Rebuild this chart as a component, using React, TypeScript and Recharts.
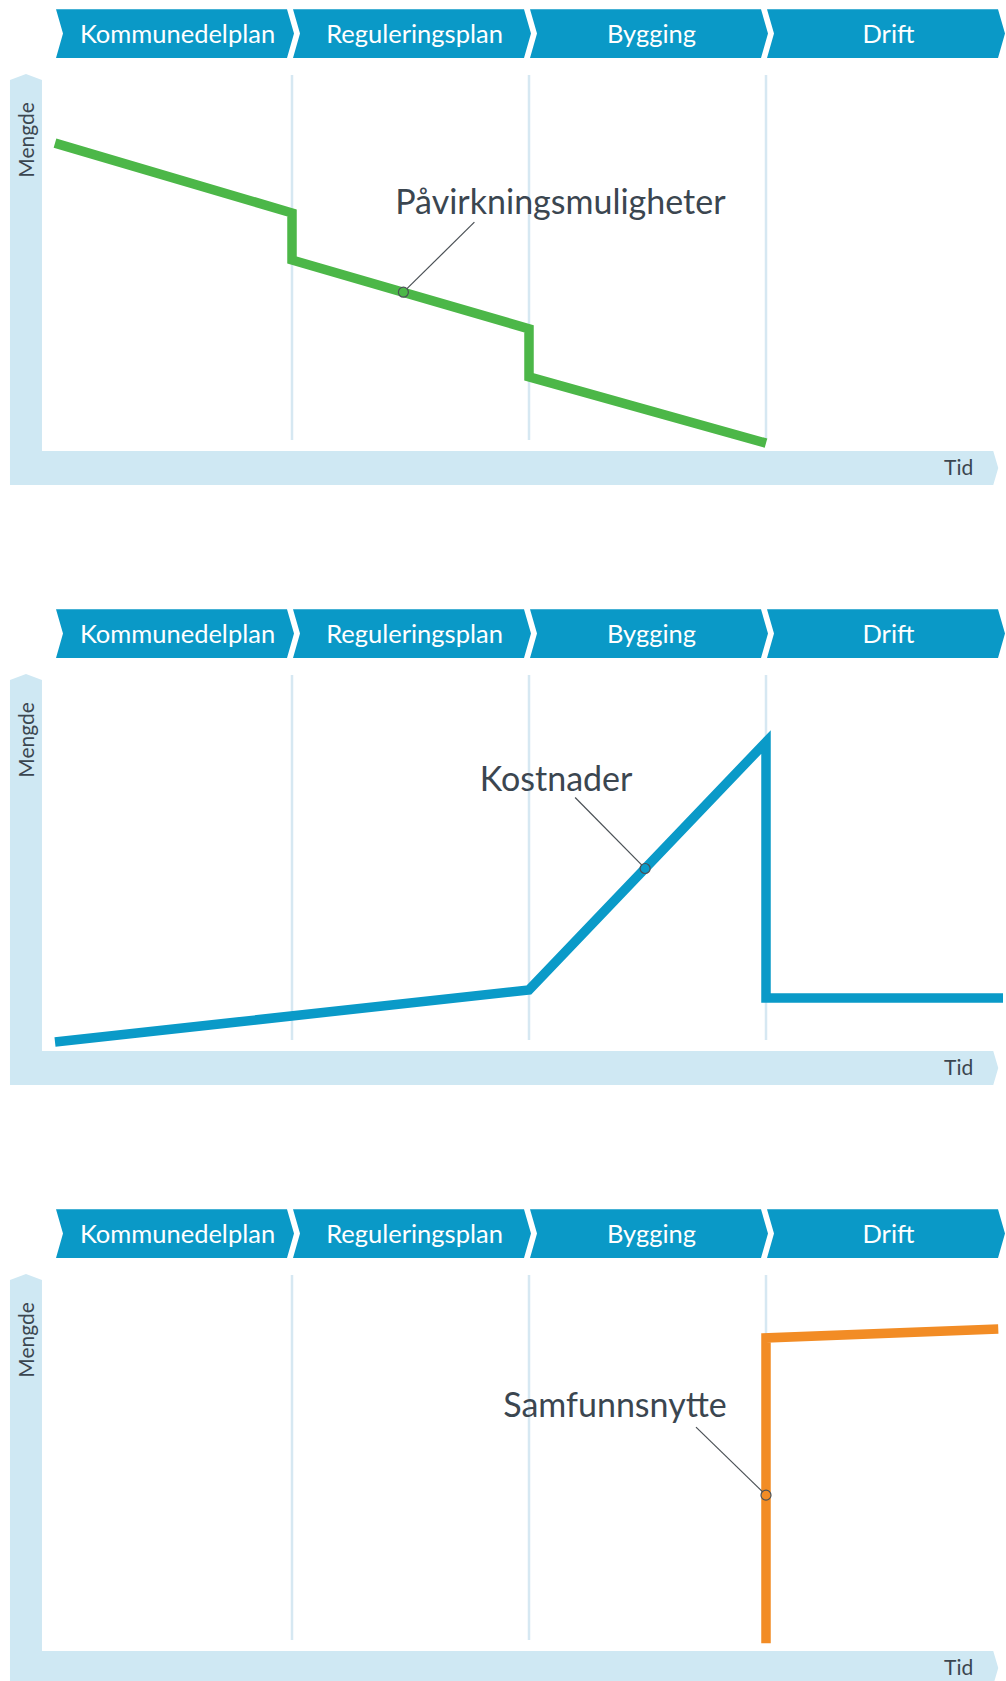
import React from "react";
import {
  LineChart,
  Line,
  XAxis,
  YAxis,
  ReferenceArea,
  ReferenceLine,
  ReferenceDot,
} from "recharts";

// ---- data ----
const PHASES = ["Kommunedelplan", "Reguleringsplan", "Bygging", "Drift"];
const PHASE_STARTS = [0, 1, 2, 3];
const PHASE_ENDS = [1, 2, 3, 4];
const PHASE_BOUNDARIES = [1, 2, 3];

const Y_LABEL = "Mengde";
const X_LABEL = "Tid";

const PAVIRKNING_T = [0, 1, 1, 2, 2, 3];
const PAVIRKNING_V = [81.6, 62.7, 50, 31.4, 18.4, 0.5];

const KOSTNADER_T = [0, 2, 3, 3, 4];
const KOSTNADER_V = [0.8, 14.9, 81.9, 12.7, 12.7];

const SAMFUNN_T = [3, 3, 3.98];
const SAMFUNN_V = [0.5, 83, 85.4];

const SERIES_NAMES = ["Påvirkningsmuligheter", "Kostnader", "Samfunnsnytte"];
const MARKER_T = [1.47, 2.49, 3];
const MARKER_V = [41.3, 47.7, 40.5];

// ---- styles ----
const FONT = "Lato, 'Open Sans', sans-serif";
const HEADER_COLOR = "#0a99c7";
const BAND_COLOR = "#cfe8f3";
const GRID_COLOR = "#d6e8f2";
const TEXT_COLOR = "#3b4650";
const SERIES_COLORS = ["#4cb748", "#0a9ac8", "#f28c25"];

// label placement (pixel offsets from marker)
const LEADER = [
  { dx: 71, dy: -70, tdx: 157 },
  { dx: -70, dy: -71, tdx: -89 },
  { dx: -70, dy: -68, tdx: -151 },
];

const toRows = (ts: number[], vs: number[]) => ts.map((t, i) => ({ t, v: vs[i] }));

const SERIES_DATA = [
  toRows(PAVIRKNING_T, PAVIRKNING_V),
  toRows(KOSTNADER_T, KOSTNADER_V),
  toRows(SAMFUNN_T, SAMFUNN_V),
];

const AxisFrame = (props: any) => {
  const { x, y, width: w, height: h } = props;
  const bw = 32;
  const bh = 34;
  const pts = [
    [x, y + 6],
    [x + bw / 2, y],
    [x + bw, y + 6],
    [x + bw, y + h - bh],
    [x + w - 5, y + h - bh],
    [x + w, y + h - bh / 2],
    [x + w - 5, y + h],
    [x, y + h],
  ]
    .map((p) => p.join(","))
    .join(" ");
  const my = y + 66;
  return (
    <g>
      <polygon points={pts} fill={BAND_COLOR} />
      <text
        x={x + bw / 2}
        y={my}
        transform={`rotate(-90 ${x + bw / 2} ${my})`}
        textAnchor="middle"
        dominantBaseline="central"
        fontSize={21}
        fontFamily={FONT}
        fill={TEXT_COLOR}
      >
        {Y_LABEL}
      </text>
      <text
        x={x + w - 25}
        y={y + h - 10}
        textAnchor="end"
        fontSize={21}
        fontFamily={FONT}
        fill={TEXT_COLOR}
      >
        {X_LABEL}
      </text>
    </g>
  );
};

const makeChevron = (label: string) => (props: any) => {
  const { x, y, width: w, height: h } = props;
  const pts = [
    [x + 1, y],
    [x + w - 5, y],
    [x + w + 2, y + h / 2],
    [x + w - 5, y + h],
    [x + 1, y + h],
    [x + 8, y + h / 2],
  ]
    .map((p) => p.join(","))
    .join(" ");
  return (
    <g>
      <polygon points={pts} fill={HEADER_COLOR} />
      <text
        x={x + w / 2 + 4}
        y={y + h / 2 + 9}
        textAnchor="middle"
        fontSize={25.5}
        fontFamily={FONT}
        fill="#ffffff"
      >
        {label}
      </text>
    </g>
  );
};

const makeMarker = (name: string, idx: number) => (props: any) => {
  const { cx, cy } = props;
  const r = 5;
  const L = LEADER[idx];
  const len = Math.hypot(L.dx, L.dy);
  const sx = cx + (L.dx / len) * r;
  const sy = cy + (L.dy / len) * r;
  return (
    <g>
      <line x1={sx} y1={sy} x2={cx + L.dx} y2={cy + L.dy} stroke="#4a5055" strokeWidth={1.2} />
      <circle cx={cx} cy={cy} r={r} fill="none" stroke="#4a5055" strokeWidth={1.2} />
      <text
        x={cx + L.tdx}
        y={cy - 78}
        textAnchor="middle"
        fontSize={34}
        fontFamily={FONT}
        fill={TEXT_COLOR}
      >
        {name}
      </text>
    </g>
  );
};

const Panel = ({ idx }: { idx: number }) => (
  <LineChart
    width={1006}
    height={600}
    data={SERIES_DATA[idx]}
    margin={{ top: 75, right: 3, bottom: 155, left: 55 }}
  >
    <XAxis type="number" dataKey="t" domain={[0, 4]} hide />
    <YAxis type="number" domain={[0, 100]} hide />
    <ReferenceArea
      x1={-0.19}
      x2={3.98}
      y1={-10.8}
      y2={100.3}
      ifOverflow="visible"
      shape={AxisFrame}
    />
    {PHASES.map((p, i) => (
      <ReferenceArea
        key={p}
        x1={PHASE_STARTS[i]}
        x2={PHASE_ENDS[i]}
        y1={104.6}
        y2={117.8}
        ifOverflow="visible"
        shape={makeChevron(p)}
      />
    ))}
    {PHASE_BOUNDARIES.map((b) => (
      <ReferenceLine
        key={b}
        segment={[
          { x: b, y: 1.35 },
          { x: b, y: 100 },
        ]}
        stroke={GRID_COLOR}
        strokeWidth={2.5}
      />
    ))}
    <Line
      type="linear"
      dataKey="v"
      stroke={SERIES_COLORS[idx]}
      strokeWidth={9.5}
      strokeLinejoin="miter"
      strokeLinecap="butt"
      dot={false}
      activeDot={false}
      isAnimationActive={false}
    />
    <ReferenceDot
      x={MARKER_T[idx]}
      y={MARKER_V[idx]}
      r={5}
      ifOverflow="visible"
      shape={makeMarker(SERIES_NAMES[idx], idx)}
    />
  </LineChart>
);

export default function App() {
  return (
    <div
      style={{
        position: "absolute",
        top: 0,
        left: 0,
        width: 1006,
        height: 1681,
        overflow: "hidden",
        background: "#ffffff",
        fontFamily: FONT,
      }}
    >
      {[0, 1, 2].map((i) => (
        <div
          key={i}
          style={{
            position: "absolute",
            left: 0,
            top: i * 600,
            width: 1006,
            height: i === 2 ? 481 : 600,
            overflow: "hidden",
          }}
        >
          <Panel idx={i} />
        </div>
      ))}
    </div>
  );
}
